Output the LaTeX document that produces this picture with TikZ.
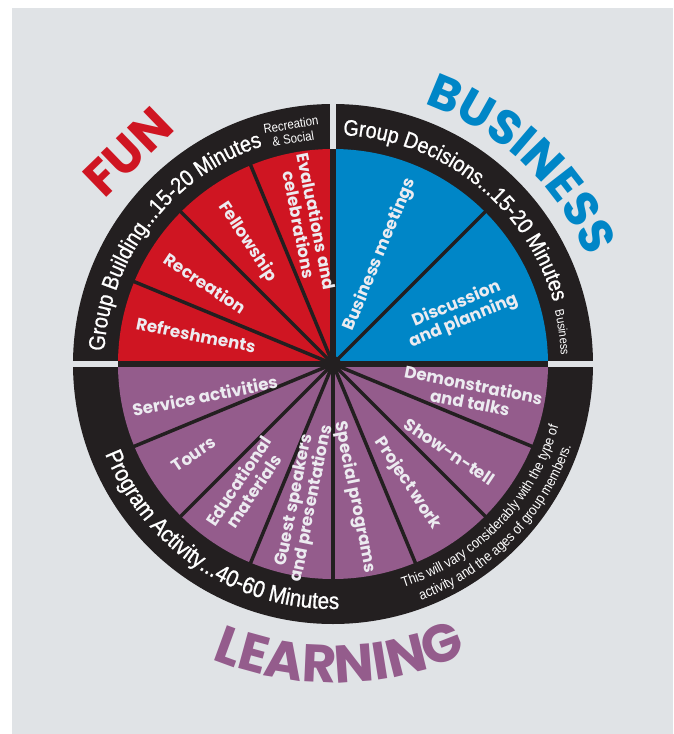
\documentclass[tikz,border=0pt]{standalone}
\usepackage{fontspec}
\setmainfont{Liberation Sans}
\newfontfamily\ringfont[FakeStretch=0.88]{Liberation Sans}
\newfontfamily\ringheavy[FakeStretch=0.88,FakeBold=0.9]{Liberation Sans}
\newfontfamily\headfont{Poppins}
\usetikzlibrary{decorations.text}
\definecolor{bggray}{RGB}{224,227,230}
\definecolor{ringblack}{RGB}{35,31,32}
\definecolor{funred}{RGB}{207,21,34}
\definecolor{bizblue}{RGB}{0,134,199}
\definecolor{learnpurple}{RGB}{148,92,140}
\definecolor{lbltext}{RGB}{236,235,240}
\tikzset{
  lbl/.style={text=lbltext, font=\headfont\bfseries\fontsize{16.8}{18}\selectfont, align=center, inner sep=0pt},
  thin divider/.style={ringblack, line width=3.5pt},
  thick divider/.style={ringblack, line width=5.5pt},
  ring gap/.style={bggray, line width=6.5pt},
  ringnote/.style={text=white, font=\ringfont\fontsize{13}{14.5}\selectfont, align=center, inner sep=0pt}
}
\begin{document}
\begin{tikzpicture}[x=1pt,y=1pt]
\useasboundingbox (-333,-370) rectangle (340,364);
\fill[bggray] (-321,-370) rectangle (340,356);
% ring
\fill[ringblack] (0,0) circle[radius=260];
% sectors
\fill[funred] (0,0) -- (90:215) arc[start angle=90,end angle=180,radius=215] -- cycle;
\fill[bizblue] (0,0) -- (0:215) arc[start angle=0,end angle=90,radius=215] -- cycle;
\fill[learnpurple] (0,0) -- (180:215) arc[start angle=180,end angle=360,radius=215] -- cycle;
% dividers
\foreach \a in {112.5,135,157.5,45,202.5,225,247.5,270,292.5,315,337.5}
  \draw[thin divider] (0,0) -- (\a:216);
\draw[thick divider] (180:216) -- (0:216);
\draw[thick divider] (0,0) -- (90:216);
\foreach \a in {0,90,180}
  \draw[ring gap] (\a:215) -- (\a:263);
\fill[ringblack] (0,0) circle[radius=8];
% ring texts
\path[decorate, decoration={text along path, text align=center,
  text={|\ringheavy\fontsize{22.7}{22.7}\selectfont\color{white}|Group Building...15-20 Minutes}}]
  (192.35:229) arc[start angle=192.35, end angle=92.35, radius=229];
\path[decorate, decoration={text along path, text align=center,
  text={|\ringheavy\fontsize{22.4}{22.4}\selectfont\color{white}|Group Decisions...15-20 Minutes}}]
  (101.6:229) arc[start angle=101.6, end angle=1.6, radius=229];
\path[decorate, decoration={text along path, text align=center,
  text={|\ringfont\fontsize{12.5}{12.5}\selectfont\color{white}|Business}}]
  (37.85:228) arc[start angle=37.85, end angle=-22.15, radius=228];
\path[decorate, decoration={text along path, text align=center,
  text={|\ringheavy\fontsize{23.5}{23.5}\selectfont\color{white}|Program Activity...40-60 Minutes}}]
  (186.5:245) arc[start angle=186.5, end angle=286.5, radius=245];
\path[decorate, decoration={text along path, text align=center,
  text={|\ringfont\fontsize{14.2}{14.2}\selectfont\color{white}|This will vary considerably with the type of}}]
  (266:234) arc[start angle=266, end angle=366, radius=234];
\path[decorate, decoration={text along path, text align=center,
  text={|\ringfont\fontsize{14.2}{14.2}\selectfont\color{white}|activity and the ages of group members.}}]
  (265.75:252) arc[start angle=265.75, end angle=365.75, radius=252];
\node[ringnote, rotate=9] (recsoc) at (100:236) {Recreation\\\& Social};
% headings
\node[text=funred, font=\headfont\bfseries\fontsize{50}{50}\selectfont, rotate=44, inner sep=0pt] (fun) at (134:295) {FUN};
\path[decorate, decoration={text along path, text align=center,
  text={|\headfont\bfseries\fontsize{48}{48}\selectfont\color{bizblue}|BUSINESS}}]
  (96.75:276) arc[start angle=96.75, end angle=-3.25, radius=276];
\path[decorate, decoration={text along path, text align=center,
  text={|\headfont\bfseries\fontsize{53}{53}\selectfont\color{learnpurple}|LEARNING}}]
  (221.25:319) arc[start angle=221.25, end angle=321.25, radius=319];
% wedge labels
\node[lbl, rotate=-11.25] (refr) at (168:140) {Refreshments};
\node[lbl, rotate=-33.75] (recr) at (147.7:151) {Recreation};
\node[lbl, rotate=-56.25] (fell) at (125:149) {Fellowship};
\node[lbl, rotate=-78.75] (eval) at (100:143) {Evaluations and\\celebrations};
\node[lbl, rotate=67.5] (bmeet) at (66.7:119) {Business meetings};
\node[lbl, rotate=22.5] (disc) at (22:137) {Discussion\\and planning};
\node[lbl, rotate=11.25] (serv) at (194:132) {Service activities};
\node[lbl, rotate=33.75] (tours) at (213:166) {Tours};
\node[lbl, rotate=56.25] (educ) at (234.5:150) {Educational\\materials};
\node[lbl, rotate=78.75] (guest) at (258:141) {Guest speakers\\and presentations};
\node[lbl, rotate=-78.75] (spec) at (279.4:135) {Special programs};
\node[lbl, rotate=-56.25] (proj) at (302:141) {Project work};
\node[lbl, rotate=-33.75] (show) at (323:146) {Show-n-tell};
\node[lbl, rotate=-11.25] (demo) at (348:142) {Demonstrations\\and talks};
\end{tikzpicture}
\end{document}
